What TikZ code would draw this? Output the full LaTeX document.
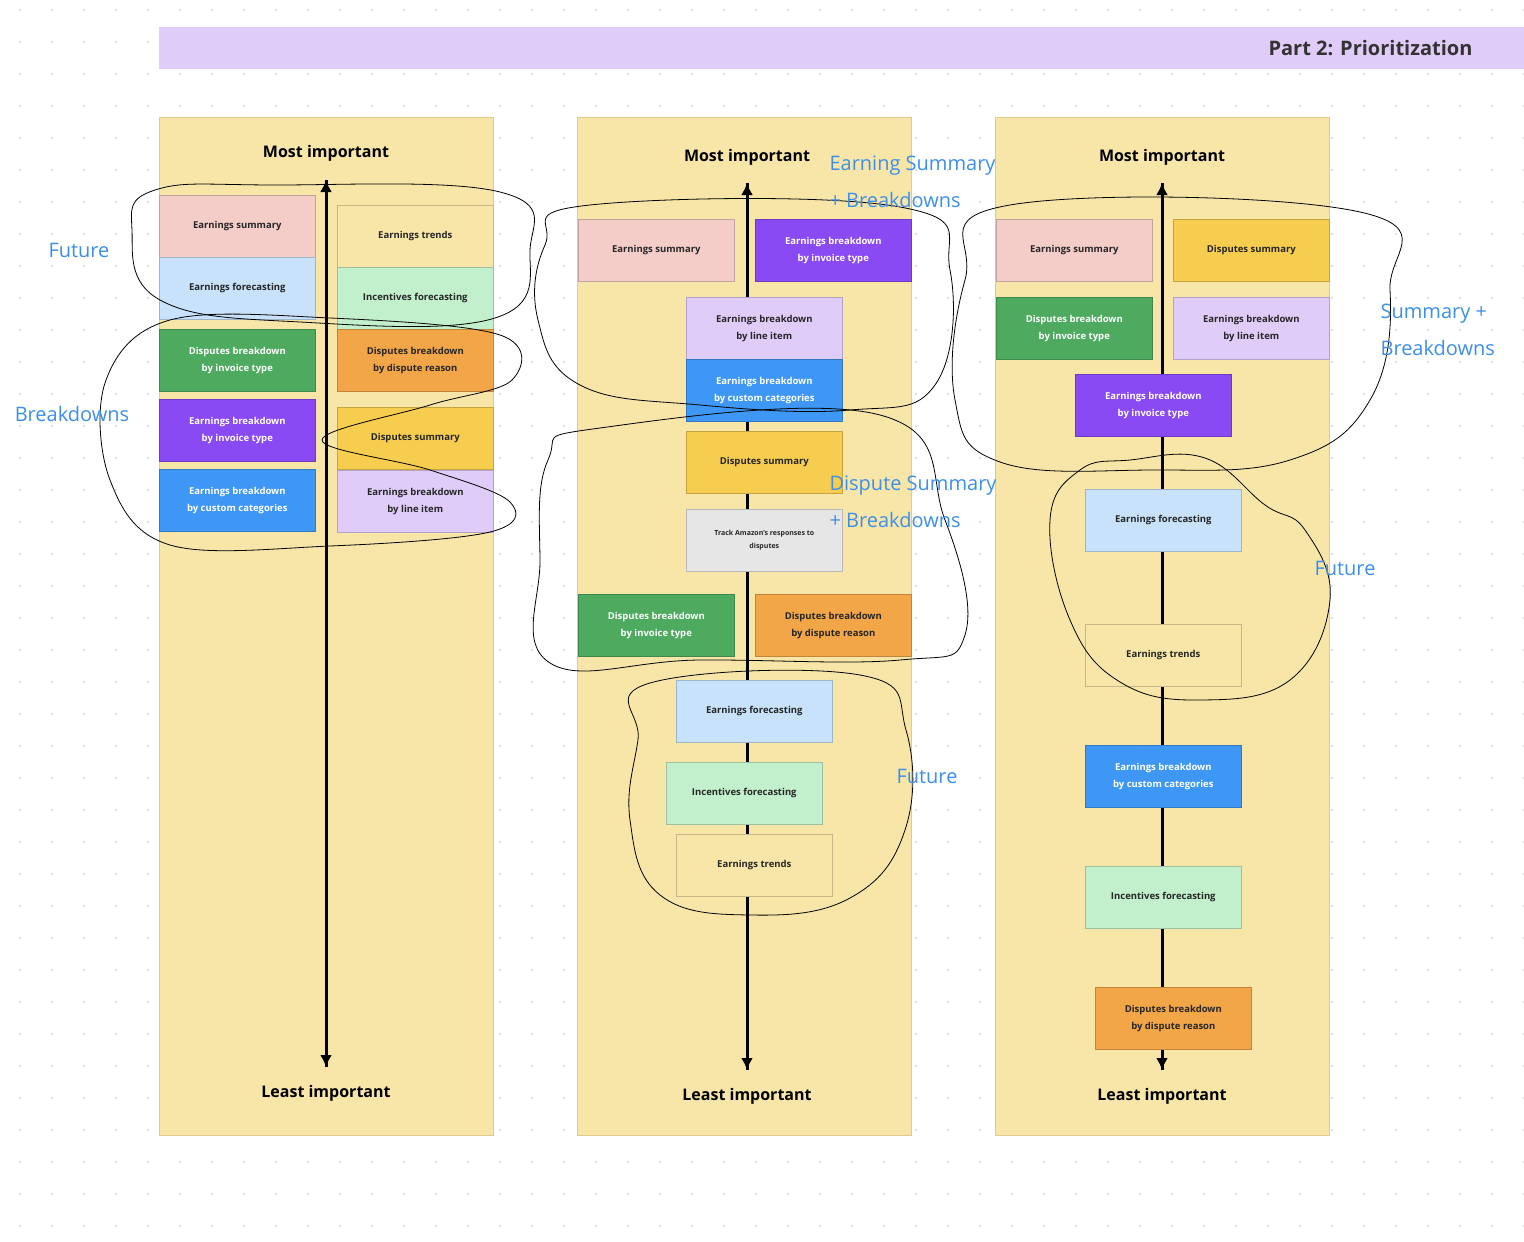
\documentclass[tikz,border=0pt]{standalone}
\usepackage{fontspec}
\setmainfont{Open Sans}
\usetikzlibrary{arrows.meta}
\begin{document}
\begin{tikzpicture}[x=1pt,y=-1pt,
  col/.style={draw=colb,fill=colf,line width=1pt},
  note/.style={draw=#1!80!black,fill=#1,line width=0.6pt,minimum width=156pt,minimum height=62pt,inner sep=0pt,anchor=north west,align=center,font=\fontsize{9.5}{17}\selectfont\bfseries,text=black!85},
  wnote/.style={note=#1,text=white},
  head/.style={font=\fontsize{16}{20}\selectfont\bfseries},
  lbl/.style={text=lblue,font=\fontsize{20}{34}\selectfont},
  loop/.style={draw=black,line width=0.8pt},
  axis/.style={line width=3pt,-{Latex[length=12pt,width=12pt]}}]
\definecolor{colf}{HTML}{F8E6A8}\definecolor{colb}{HTML}{E3C98C}
\definecolor{pink}{HTML}{F4CCC8}\definecolor{lb}{HTML}{C7E2FA}
\definecolor{yel}{HTML}{F8E6A8}\definecolor{lg}{HTML}{C2F0CC}
\definecolor{gr}{HTML}{4DAA5F}\definecolor{ora}{HTML}{F2A647}
\definecolor{pur}{HTML}{8A4AF3}\definecolor{ds}{HTML}{F7CD4F}
\definecolor{bl}{HTML}{3E97F5}\definecolor{lav}{HTML}{E0CCF8}
\definecolor{gry}{HTML}{E6E6E6}\definecolor{lblue}{HTML}{3D8FE8}
\useasboundingbox (0,0) rectangle (1524,1242);
\fill[white] (0,0) rectangle (1524,1242);
\foreach \i in {0,...,47}{\foreach \j in {0,...,38}{\fill[black!25] (20+32*\i,10+32*\j) circle (0.9);}}
\fill[lav] (159,27) rectangle (1524,69);
\node[anchor=east,font=\fontsize{20}{24}\selectfont\bfseries,text=black!80] (title) at (1476,48) {Part 2: Prioritization};
% columns
\draw[col] (159,117) rectangle (493,1135);
\draw[col] (577,117) rectangle (911,1135);
\draw[col] (995,117) rectangle (1329,1135);
% column 1
\node[head] (m1) at (326,153) {Most important};
\node[head] (l1) at (326,1093) {Least important};
\coordinate (a1s) at (326,180); \coordinate (a1e) at (326,1067);
\draw[axis] (a1e) -- (a1s); \draw[axis] (a1s) -- (a1e);
\node[note=pink] (c1a) at (159,195) {Earnings summary};
\node[note=lb] (c1b) at (159,257) {Earnings forecasting};
\node[note=yel] (c1c) at (337,205) {Earnings trends};
\node[note=lg] (c1d) at (337,267) {Incentives forecasting};
\node[wnote=gr] (c1e) at (159,329) {Disputes breakdown\\by invoice type};
\node[note=ora] (c1f) at (337,329) {Disputes breakdown\\by dispute reason};
\node[wnote=pur] (c1g) at (159,399) {Earnings breakdown\\by invoice type};
\node[note=ds] (c1h) at (337,407) {Disputes summary};
\node[wnote=bl] (c1i) at (159,469) {Earnings breakdown\\by custom categories};
\node[note=lav] (c1j) at (337,470) {Earnings breakdown\\by line item};
% column 2
\node[head] (m2) at (747,157) {Most important};
\node[head] (l2) at (747,1096) {Least important};
\coordinate (a2s) at (747,183); \coordinate (a2e) at (747,1070);
\draw[axis] (a2e) -- (a2s); \draw[axis] (a2s) -- (a2e);
\node[note=pink] (c2a) at (578,219) {Earnings summary};
\node[wnote=pur] (c2b) at (755,219) {Earnings breakdown\\by invoice type};
\node[note=lav] (c2c) at (686,297) {Earnings breakdown\\by line item};
\node[wnote=bl] (c2d) at (686,359) {Earnings breakdown\\by custom categories};
\node[note=ds] (c2e) at (686,431) {Disputes summary};
\node[note=gry,font=\fontsize{7}{13}\selectfont\bfseries] (c2f) at (686,509) {Track Amazon's responses to\\disputes};
\node[wnote=gr] (c2g) at (578,594) {Disputes breakdown\\by invoice type};
\node[note=ora] (c2h) at (755,594) {Disputes breakdown\\by dispute reason};
\node[note=lb] (c2i) at (676,680) {Earnings forecasting};
\node[note=lg] (c2j) at (666,762) {Incentives forecasting};
\node[note=yel] (c2k) at (676,834) {Earnings trends};
% column 3
\node[head] (m3) at (1162,157) {Most important};
\node[head] (l3) at (1162,1096) {Least important};
\coordinate (a3s) at (1162,183); \coordinate (a3e) at (1162,1070);
\draw[axis] (a3e) -- (a3s); \draw[axis] (a3s) -- (a3e);
\node[note=pink] (c3a) at (996,219) {Earnings summary};
\node[note=ds] (c3b) at (1173,219) {Disputes summary};
\node[wnote=gr] (c3c) at (996,297) {Disputes breakdown\\by invoice type};
\node[note=lav] (c3d) at (1173,297) {Earnings breakdown\\by line item};
\node[wnote=pur] (c3e) at (1075,374) {Earnings breakdown\\by invoice type};
\node[note=lb] (c3f) at (1085,489) {Earnings forecasting};
\node[note=yel] (c3g) at (1085,624) {Earnings trends};
\node[wnote=bl] (c3h) at (1085,745) {Earnings breakdown\\by custom categories};
\node[note=lg] (c3i) at (1085,866) {Incentives forecasting};
\node[note=ora] (c3j) at (1095,987) {Disputes breakdown\\by dispute reason};
% hand loops
\draw[loop] plot[smooth cycle,tension=0.7] coordinates {(270,185)(500,192)(530,250)(495,318)(300,322)(160,300)(132,230)(155,190)};
\draw[loop] plot[smooth cycle,tension=0.6] coordinates {(170,320)(330,318)(500,335)(512,380)(430,405)(322,440)(430,470)(510,502)(490,532)(330,546)(170,545)(110,480)(106,380)};
\draw[loop] plot[smooth cycle,tension=0.7] coordinates {(590,205)(900,207)(950,270)(935,385)(850,410)(700,405)(580,385)(538,320)(545,245)};
\draw[loop] plot[smooth cycle,tension=0.7] coordinates {(600,428)(880,415)(945,520)(965,635)(900,660)(700,660)(550,663)(540,560)(548,460)};
\draw[loop] plot[smooth cycle,tension=0.7] coordinates {(650,683)(860,675)(906,730)(905,830)(850,898)(750,915)(660,895)(630,820)(638,740)};
\draw[loop] plot[smooth cycle,tension=0.7] coordinates {(1010,205)(1360,212)(1390,290)(1370,400)(1290,460)(1150,470)(1000,462)(955,400)(965,280)};
\draw[loop] plot[smooth cycle,tension=0.7] coordinates {(1130,460)(1205,458)(1265,505)(1305,530)(1330,600)(1290,680)(1200,700)(1120,682)(1070,620)(1050,520)(1080,470)};
% blue labels
\node[lbl] (f1) at (79,250) {Future};
\node[lbl] (b1) at (72,414) {Breakdowns};
\node[lbl,anchor=west] (e2) at (826,166) {Earning Summary};
\node[lbl,anchor=west] (e2b) at (826,200) {+ Breakdowns};
\node[lbl,anchor=west] (d2) at (826,486) {Dispute Summary};
\node[lbl,anchor=west] (d2b) at (826,520) {+ Breakdowns};
\node[lbl] (f2) at (927,776) {Future};
\node[lbl,anchor=west] (s3) at (1377,314) {Summary +};
\node[lbl,anchor=west] (s3b) at (1377,348) {Breakdowns};
\node[lbl] (f3) at (1345,568) {Future};
\end{tikzpicture}
\end{document}
